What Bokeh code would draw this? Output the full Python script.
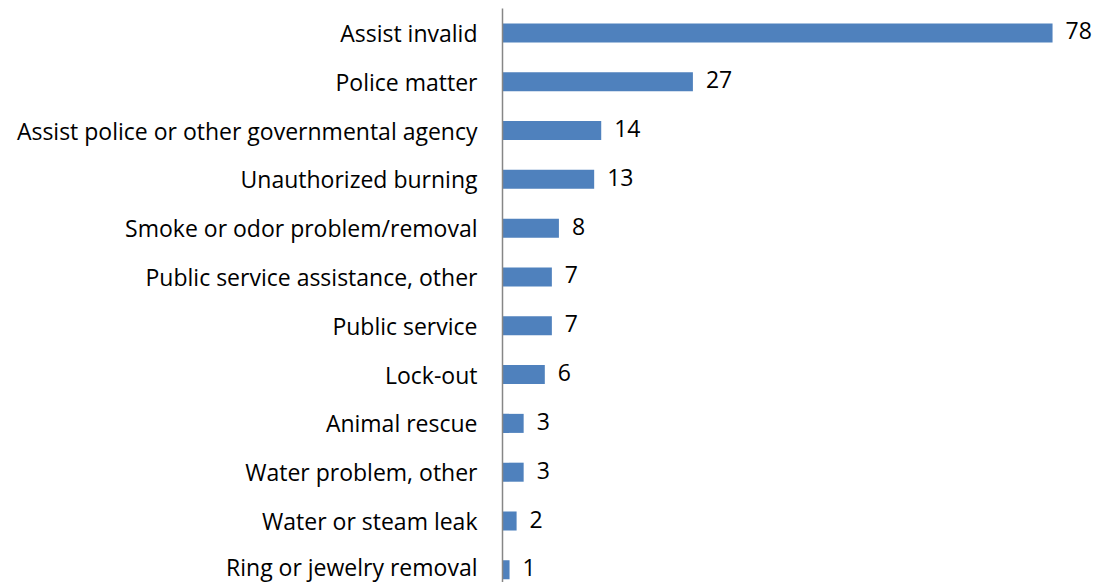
from bokeh.plotting import figure
from bokeh.models import ColumnDataSource, Range1d, FixedTicker, LabelSet
from bokeh.core.properties import value
from bokeh.embed import file_html
from bokeh.resources import INLINE

categories = ["Assist invalid", "Police matter", "Assist police or other governmental agency",
              "Unauthorized burning", "Smoke or odor problem/removal", "Public service assistance, other",
              "Public service", "Lock-out", "Animal rescue", "Water problem, other",
              "Water or steam leak", "Ring or jewelry removal"]
values = [78, 27, 14, 13, 8, 7, 7, 6, 3, 3, 2, 1]

pos = list(range(len(categories)))
src = ColumnDataSource(dict(y=pos, v=values, lab=[str(v) for v in values]))

FONT = "Open Sans"
FS = "23px"
p = figure(width=1100, height=582, output_backend="svg", toolbar_location=None,
           x_range=Range1d(0, 84.8), y_range=Range1d(11.26, -0.5),
           min_border_left=502, min_border_right=0, min_border_top=8, min_border_bottom=0)
p.hbar(y="y", right="v", left=0, height=0.39, source=src, color="#4F81BD", line_color=None)
p.add_layout(LabelSet(x="v", y="y", text="lab", source=src, x_offset=13, y_offset=2,
                      text_baseline="middle", text_font=value(FONT), text_font_size=FS,
                      text_color="black"))

p.xaxis.visible = False
p.grid.visible = False
p.outline_line_color = None
ya = p.yaxis[0]
ya.ticker = FixedTicker(ticks=pos)
ya.major_label_overrides = {i: c for i, c in enumerate(categories)}
ya.major_tick_line_color = None
ya.minor_tick_line_color = None
ya.axis_line_color = "#868686"
ya.axis_line_width = 1.5
ya.major_label_text_font = FONT
ya.major_label_text_font_size = FS
ya.major_label_text_color = "black"
ya.major_label_standoff = 19

open("out.html", "w").write(file_html(p, INLINE))
